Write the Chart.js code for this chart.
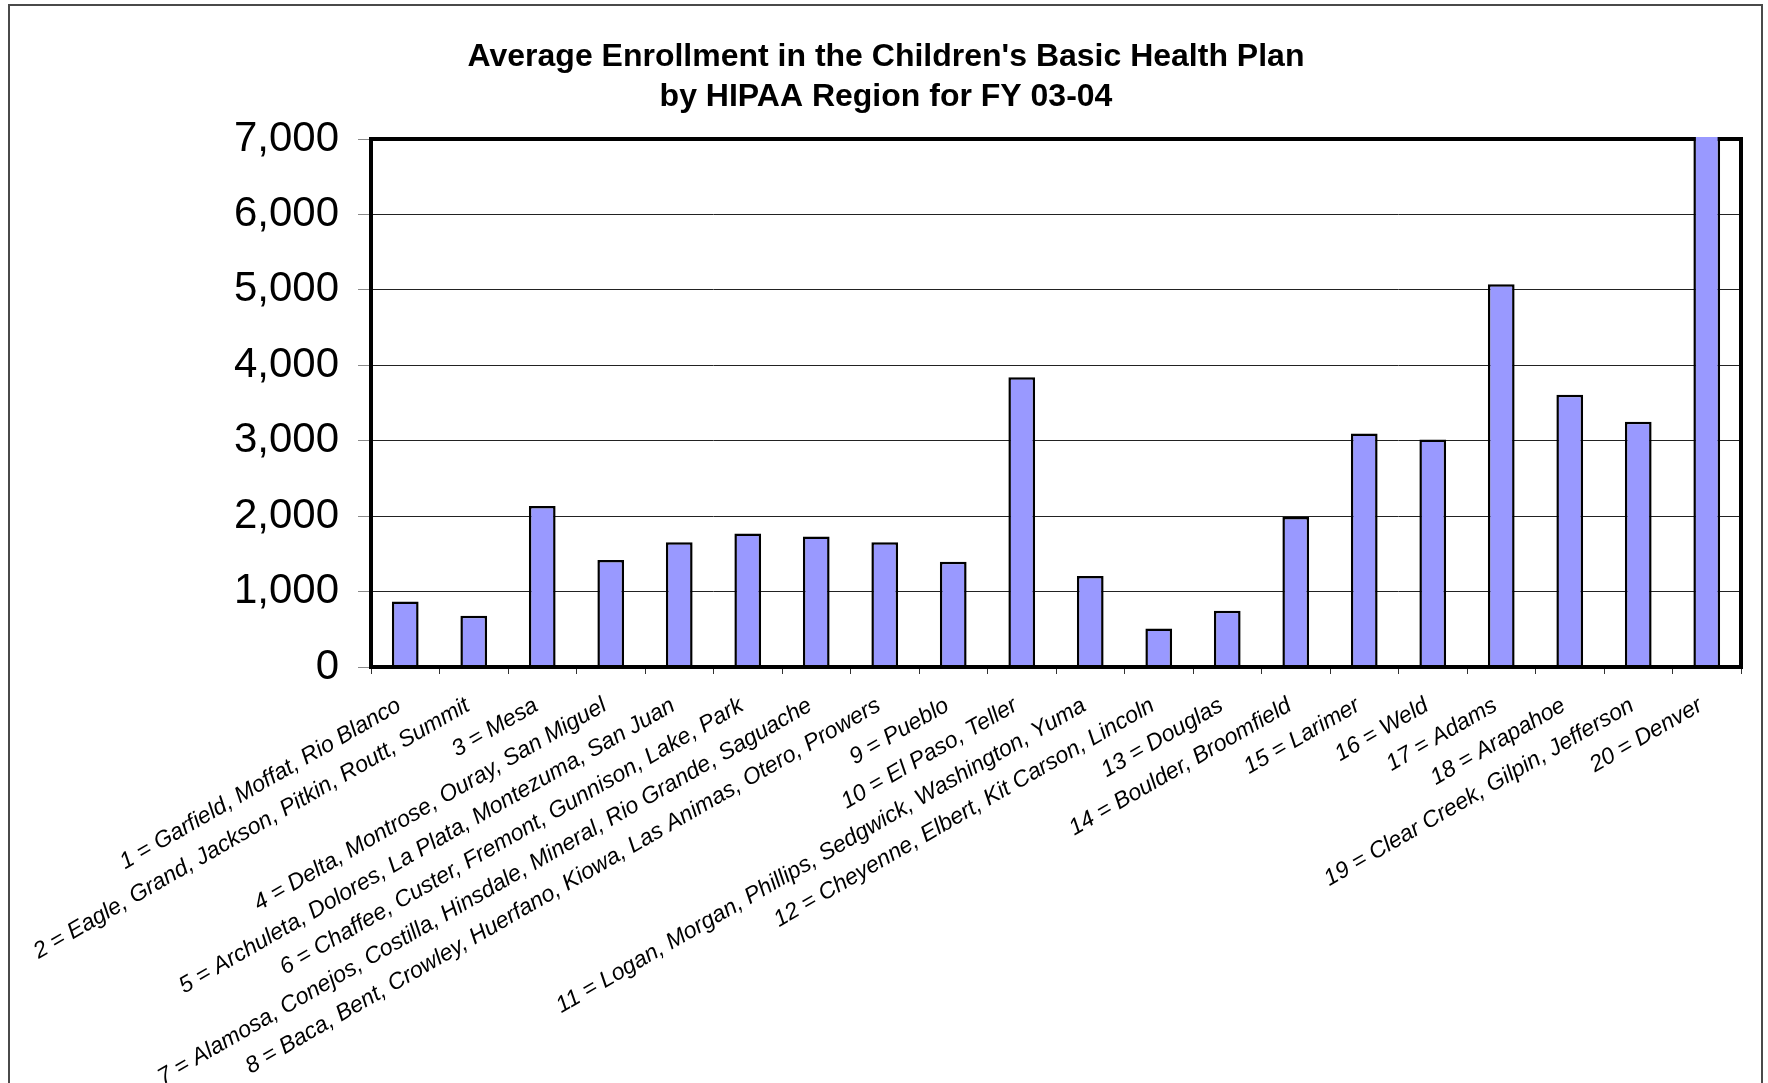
<!DOCTYPE html>
<html>
<head>
<meta charset="utf-8">
<title>Children's Basic Health Plan enrollment</title>
<script src="https://cdn.jsdelivr.net/npm/chart.js@4.4.1/dist/chart.umd.min.js"></script>
<style>
    html, body { margin: 0; padding: 0; background: #fff; overflow: hidden; }
    #wrap { position: relative; width: 1768px; height: 1083px; }
</style>
</head>
<body>
<div id="wrap"><canvas id="enrollChart" width="1768" height="1083"></canvas></div>
<script>
// HIPAA regions (counties per region)
const regions = [
    '1 = Garfield, Moffat, Rio Blanco',
    '2 = Eagle, Grand, Jackson, Pitkin, Routt, Summit',
    '3 = Mesa',
    '4 = Delta, Montrose, Ouray, San Miguel',
    '5 = Archuleta, Dolores, La Plata, Montezuma, San Juan',
    '6 = Chaffee, Custer, Fremont, Gunnison, Lake, Park',
    '7 = Alamosa, Conejos, Costilla, Hinsdale, Mineral, Rio Grande, Saguache',
    '8 = Baca, Bent, Crowley, Huerfano, Kiowa, Las Animas, Otero, Prowers',
    '9 = Pueblo',
    '10 = El Paso, Teller',
    '11 = Logan, Morgan, Phillips, Sedgwick, Washington, Yuma',
    '12 = Cheyenne, Elbert, Kit Carson, Lincoln',
    '13 = Douglas',
    '14 = Boulder, Broomfield',
    '15 = Larimer',
    '16 = Weld',
    '17 = Adams',
    '18 = Arapahoe',
    '19 = Clear Creek, Gilpin, Jefferson',
    '20 = Denver'
];

// average monthly enrollment, FY 03-04
const avgEnrollment = [
    870, 680, 2135, 1420, 1655, 1770, 1730, 1655, 1395, 3840,
    1205, 510, 745, 1990, 3095, 3015, 5075, 3610, 3250, 7100
];

const yTicks = [0, 1000, 2000, 3000, 4000, 5000, 6000, 7000];

const FONT = '"Liberation Sans", Arial, Helvetica, sans-serif';
const PAD_LEFT = 31;

// page frame + plot box
const framePlugin = {
    id: 'frame',
    beforeDraw(chart) {
        const c = chart.ctx;
        c.save();
        c.fillStyle = '#fff';
        c.fillRect(0, 0, chart.width, chart.height);
        c.strokeStyle = '#4a4a4a';
        c.lineWidth = 2;
        c.strokeRect(9, 5, 1753, 1200);
        c.restore();
    },
    beforeDatasetsDraw(chart) {
        const a = chart.chartArea;
        const c = chart.ctx;
        c.save();
        c.strokeStyle = '#000';
        c.lineWidth = 4;
        c.strokeRect(a.left, a.top, a.right - a.left, a.bottom - a.top);
        c.restore();
    },
    afterDatasetsDraw(chart) {
        const a = chart.chartArea;
        const c = chart.ctx;
        c.save();
        c.strokeStyle = '#000';
        c.lineWidth = 4;
        c.beginPath();
        c.moveTo(a.left - 2, a.bottom);
        c.lineTo(a.right + 2, a.bottom);
        c.stroke();
        c.restore();
    }
};

const ctx = document.getElementById('enrollChart').getContext('2d');
new Chart(ctx, {
    type: 'bar',
    data: {
        labels: regions,
        datasets: [{
            label: 'Average Enrollment',
            data: avgEnrollment,
            backgroundColor: '#9999ff',
            borderColor: '#000',
            borderWidth: 2.5,
            borderSkipped: 'start',
            barPercentage: 0.39,
            categoryPercentage: 1,
            clip: { top: 2, left: false, right: false, bottom: false }
        }]
    },
    options: {
        responsive: false,
        animation: false,
        layout: {
            padding: { left: PAD_LEFT, right: 27, top: 0, bottom: 0 }
        },
        plugins: {
            legend: { display: false },
            tooltip: { enabled: false },
            title: {
                display: true,
                text: [
                    "Average Enrollment in the Children's Basic Health Plan",
                    'by HIPAA Region for FY 03-04'
                ],
                color: '#000',
                font: { family: FONT, size: 32, weight: 'bold', lineHeight: 40 / 32 },
                padding: { top: 37, bottom: 22 }
            }
        },
        scales: {
            x: {
                offset: true,
                grid: {
                    offset: true,
                    drawOnChartArea: false,
                    tickLength: 7,
                    tickColor: '#333',
                    tickWidth: 1
                },
                border: { display: false },
                ticks: {
                    autoSkip: false,
                    minRotation: 30,
                    maxRotation: 30,
                    padding: 18,
                    labelOffset: -6,
                    color: '#000',
                    font: { family: FONT, size: 23, style: 'italic' }
                },
                afterFit(scale) { scale.height = 1083 - 667; }
            },
            y: {
                min: 0,
                max: 7000,
                afterBuildTicks(scale) {
                    scale.ticks = yTicks.map(v => ({ value: v }));
                },
                grid: {
                    color: '#222',
                    lineWidth: 1,
                    tickLength: 13,
                    tickColor: '#888',
                    tickWidth: 1
                },
                border: { display: false },
                ticks: {
                    padding: 19,
                    color: '#000',
                    font: { family: FONT, size: 42 },
                    callback: v => v.toLocaleString('en-US')
                },
                afterFit(scale) { scale.width = 371 - PAD_LEFT; }
            }
        }
    },
    plugins: [framePlugin]
});
</script>
</body>
</html>
